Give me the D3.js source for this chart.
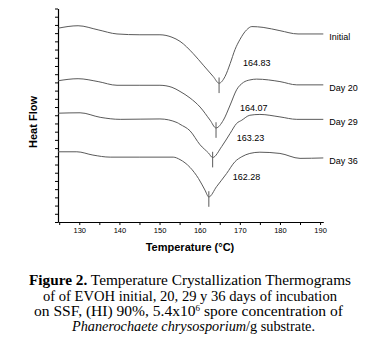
<!DOCTYPE html>
<html>
<head>
<meta charset="utf-8">
<script src="https://cdn.jsdelivr.net/npm/d3@7"></script>
<style>
  body { margin: 0; background: #fff; }
  svg { display: block; }
  .tick text { font-family: "Liberation Sans", Arial, sans-serif; font-size: 7.5px; }
</style>
</head>
<body>
<div id="chart"></div>
<script>
// series labels and the crystallization peak temperatures (°C)
const seriesNames = ["Initial", "Day 20", "Day 29", "Day 36"];
const peakTemps = [164.83, 164.07, 163.23, 162.28];

// [temperature, heat flow (arbitrary units)]
const initialCurve = [
  [124.7, 23.6], [129.7, 23.9], [134.7, 23.4], [139.4, 22.9], [145.1, 22.8],
  [150.1, 22.8], [153.1, 22.5], [155.1, 22.0], [158.4, 20.5], [160.9, 19.1],
  [163.4, 17.7], [164.83, 16.9], [166.3, 17.7], [167.6, 19.3], [168.8, 21.0],
  [170.0, 22.2], [171.7, 23.4], [173.0, 23.8], [175.8, 23.7], [180.0, 23.3],
  [184.5, 22.9], [190.8, 22.9]
];
const day20Curve = [
  [124.7, 17.2], [129.7, 17.45], [134.7, 17.1], [139.4, 16.65], [145.1, 16.65],
  [150.1, 16.65], [153.1, 16.4], [155.1, 15.9], [157.6, 15.1], [160.1, 14.0],
  [162.6, 12.4], [164.07, 11.45], [165.9, 12.4], [167.6, 14.25], [169.2, 16.1],
  [170.9, 17.0], [172.5, 17.3], [174.2, 17.4], [180.0, 17.1], [184.2, 16.7],
  [190.8, 16.7]
];
const day29Curve = [
  [124.7, 13.25], [130.2, 13.3], [135.2, 12.75], [140.2, 12.5], [150.1, 12.55],
  [154.4, 12.1], [155.1, 11.9], [157.6, 11.1], [160.1, 9.4], [162.2, 8.4],
  [163.23, 7.85], [165.5, 9.2], [167.6, 10.8], [169.2, 12.0], [170.5, 12.4],
  [172.5, 13.0], [175.0, 13.1], [180.0, 12.8], [184.2, 12.5], [190.8, 12.5]
];
const day36Curve = [
  [124.7, 8.55], [129.4, 8.55], [133.4, 8.15], [137.7, 7.9], [145.1, 7.9],
  [153.4, 7.9], [155.1, 7.6], [157.6, 6.65], [159.7, 5.3], [161.3, 3.9],
  [162.28, 3.05], [164.2, 4.3], [166.7, 5.9], [168.8, 7.35], [170.5, 7.95],
  [172.5, 8.35], [175.0, 8.5], [180.0, 8.35], [185.0, 7.75], [190.8, 7.8]
];
const curves = [initialCurve, day20Curve, day29Curve, day36Curve];

// axis ticks
const xTicks = d3.range(125, 191, 5);
const xTickLabels = [130, 140, 150, 160, 170, 180, 190];
const yTicks = d3.range(0, 27, 1);

const width = 378;
const height = 351;

const svg = d3
  .select("#chart")
  .append("svg")
  .attr("width", width)
  .attr("height", height);

const x = d3.scaleLinear().domain([124.7, 190.8]).range([58, 323.3]);
const y = d3.scaleLinear().domain([0, 26]).range([222, 8.5]);

// axes
const xAxis = d3
  .axisBottom(x)
  .tickValues(xTicks)
  .tickSize(3)
  .tickSizeOuter(0)
  .tickPadding(3)
  .tickFormat((d) => (xTickLabels.includes(d) ? d : ""));

svg
  .append("g")
  .attr("transform", `translate(0,${y(0)})`)
  .call(xAxis)
  .call((g) => g.select(".domain").attr("stroke-width", 1.2));

const yAxis = d3
  .axisLeft(y)
  .tickValues(yTicks)
  .tickSize(3)
  .tickSizeOuter(0)
  .tickFormat("");

svg
  .append("g")
  .attr("transform", `translate(${x.range()[0]},0)`)
  .call(yAxis)
  .call((g) => g.select(".domain").attr("stroke-width", 1.2));

// axis titles
svg
  .append("text")
  .attr("x", 190)
  .attr("y", 251)
  .attr("text-anchor", "middle")
  .attr("font-family", "Liberation Sans, Arial, sans-serif")
  .attr("font-weight", "bold")
  .attr("font-size", 11)
  .text("Temperature (°C)");

svg
  .append("text")
  .attr("transform", "translate(37,122) rotate(-90)")
  .attr("text-anchor", "middle")
  .attr("font-family", "Liberation Sans, Arial, sans-serif")
  .attr("font-weight", "bold")
  .attr("font-size", 11)
  .text("Heat Flow");

// thermograms
const line = d3
  .line()
  .x((d) => x(d[0]))
  .y((d) => y(d[1]))
  .curve(d3.curveMonotoneX);

const series = svg
  .selectAll(".series")
  .data(curves)
  .enter()
  .append("g")
  .attr("class", "series");

series
  .append("path")
  .attr("d", line)
  .attr("fill", "none")
  .attr("stroke", "#5a5a5a")
  .attr("stroke-width", 1);

// peak marker: vertical stroke through the minimum
series
  .append("line")
  .attr("x1", (d, i) => x(peakTemps[i]))
  .attr("x2", (d, i) => x(peakTemps[i]))
  .attr("y1", (d) => y(d3.min(d, (p) => p[1]) + 0.7))
  .attr("y2", (d) => y(d3.min(d, (p) => p[1]) - 1.2))
  .attr("stroke", "#5a5a5a")
  .attr("stroke-width", 1);

// peak temperature labels
series
  .append("text")
  .attr("x", (d, i) => x(peakTemps[i]) + 24)
  .attr("y", (d) => y(d3.min(d, (p) => p[1])) - 20)
  .attr("dominant-baseline", "central")
  .attr("font-family", "Liberation Sans, Arial, sans-serif")
  .attr("font-size", 9)
  .text((d, i) => d3.format(".2f")(peakTemps[i]));

// series names at the right end
series
  .append("text")
  .attr("x", (d) => x(d[d.length - 1][0]) + 6)
  .attr("y", (d) => y(d[d.length - 1][1]) + 3)
  .attr("dominant-baseline", "central")
  .attr("font-family", "Liberation Sans, Arial, sans-serif")
  .attr("font-size", 9)
  .text((d, i) => seriesNames[i]);

// caption
const caption = svg
  .append("g")
  .attr("font-family", "Liberation Serif, Times New Roman, serif")
  .attr("font-size", 14)
  .attr("text-anchor", "middle");

const line1 = caption
  .append("text")
  .attr("x", 190)
  .attr("y", 285)
  .attr("textLength", 322)
  .attr("lengthAdjust", "spacingAndGlyphs");
line1.append("tspan").attr("font-weight", "bold").text("Figure 2.");
line1.append("tspan").text(" Temperature Crystallization Thermograms");

caption
  .append("text")
  .attr("x", 190)
  .attr("y", 300.5)
  .attr("textLength", 294)
  .attr("lengthAdjust", "spacingAndGlyphs")
  .text("of of EVOH initial, 20, 29 y 36 days of incubation");

const line3 = caption
  .append("text")
  .attr("x", 188.5)
  .attr("y", 316)
  .attr("textLength", 309)
  .attr("lengthAdjust", "spacingAndGlyphs");
line3.append("tspan").text("on SSF, (HI) 90%, 5.4x10");
line3
  .append("tspan")
  .attr("font-size", 8)
  .attr("dy", -5)
  .text("6");
line3.append("tspan").attr("dy", 5).text(" spore concentration of");

const line4 = caption
  .append("text")
  .attr("x", 193.5)
  .attr("y", 331)
  .attr("textLength", 243)
  .attr("lengthAdjust", "spacingAndGlyphs");
line4.append("tspan").attr("font-style", "italic").text("Phanerochaete chrysosporium");
line4.append("tspan").text("/g substrate.");
</script>
</body>
</html>
